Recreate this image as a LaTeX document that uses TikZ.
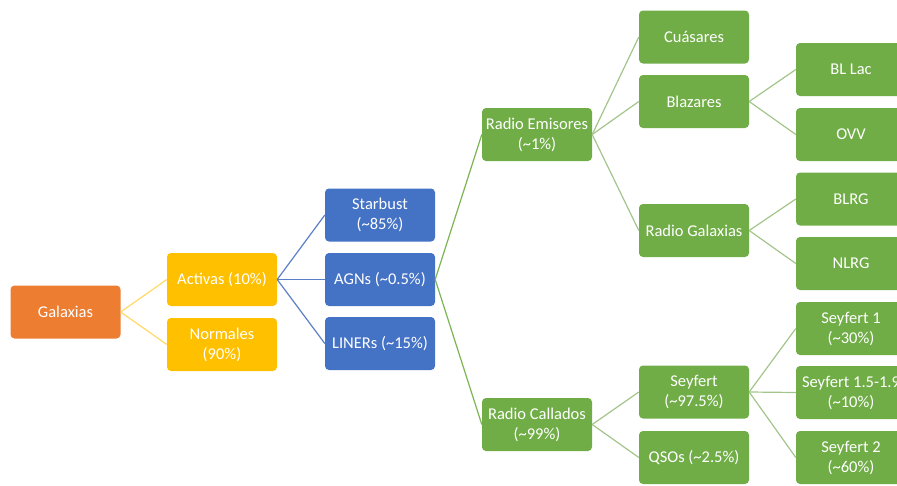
\documentclass[tikz,border=0pt]{standalone}
\usepackage{fontspec}
\setmainfont{Carlito}
\definecolor{orng}{HTML}{ED7D31}
\definecolor{gold}{HTML}{FFC000}
\definecolor{blu}{HTML}{4472C4}
\definecolor{grn}{HTML}{70AD47}
\definecolor{goldline}{HTML}{FFD966}
\definecolor{bluline}{HTML}{5B7FC8}
\definecolor{grnline}{HTML}{7DB452}
\definecolor{grnline2}{HTML}{A3C48A}
\newcommand{\tl}{\textasciitilde}
\tikzset{
  box/.style={rectangle, rounded corners=4pt, minimum width=110pt, minimum height=53pt,
    inner sep=1pt, align=center, text=white, font=\fontsize{16.5}{20}\selectfont},
  obox/.style={box, fill=orng},
  ybox/.style={box, fill=gold},
  bbox/.style={box, fill=blu},
  gbox/.style={box, fill=grn},
  conn/.style={line width=1.2pt},
}
\begin{document}
\begin{tikzpicture}[x=1pt,y=-1pt]
\useasboundingbox (0,0) rectangle (897,485);
\clip (0,0) rectangle (897,485);
\node[obox] (gal) at (65.5,312) {Galaxias};
\node[ybox] (act) at (222,279.5) {Activas (10\%)};
\node[ybox] (nor) at (222,344.5) {Normales\\(90\%)};
\node[bbox] (sta) at (380,215) {Starbust\\(\tl85\%)};
\node[bbox] (agn) at (380,279.5) {AGNs (\tl0.5\%)};
\node[bbox] (lin) at (380,343.5) {LINERs (\tl15\%)};
\node[gbox] (rem) at (537,134.5) {Radio Emisores\\(\tl1\%)};
\node[gbox] (rca) at (537,424.5) {Radio Callados\\(\tl99\%)};
\node[gbox] (cua) at (694,37) {Cuásares};
\node[gbox] (bla) at (694,101.5) {Blazares};
\node[gbox] (rga) at (694,230.5) {Radio Galaxias};
\node[gbox] (sey) at (694,392) {Seyfert\\(\tl97.5\%)};
\node[gbox] (qso) at (694,457.5) {QSOs (\tl2.5\%)};
\node[gbox] (bll) at (851,69.5) {BL Lac};
\node[gbox] (ovv) at (851,134.5) {OVV};
\node[gbox] (blr) at (851,199) {BLRG};
\node[gbox] (nlr) at (851,263.5) {NLRG};
\node[gbox] (s1) at (851,328.5) {Seyfert 1\\(\tl30\%)};
\node[gbox] (s15) at (851,392.5) {Seyfert 1.5-1.9\\(\tl10\%)};
\node[gbox] (s2) at (851,457.5) {Seyfert 2\\(\tl60\%)};
\foreach \c in {act,nor} \draw[conn,goldline] (gal.east) -- (\c.west);
\foreach \c in {sta,agn,lin} \draw[conn,bluline] (act.east) -- (\c.west);
\foreach \c in {rem,rca} \draw[conn,grnline] (agn.east) -- (\c.west);
\foreach \c in {cua,bla,rga} \draw[conn,grnline2] (rem.east) -- (\c.west);
\foreach \c in {sey,qso} \draw[conn,grnline2] (rca.east) -- (\c.west);
\foreach \c in {bll,ovv} \draw[conn,grnline2] (bla.east) -- (\c.west);
\foreach \c in {blr,nlr} \draw[conn,grnline2] (rga.east) -- (\c.west);
\foreach \c in {s1,s15,s2} \draw[conn,grnline2] (sey.east) -- (\c.west);
\end{tikzpicture}
\end{document}
